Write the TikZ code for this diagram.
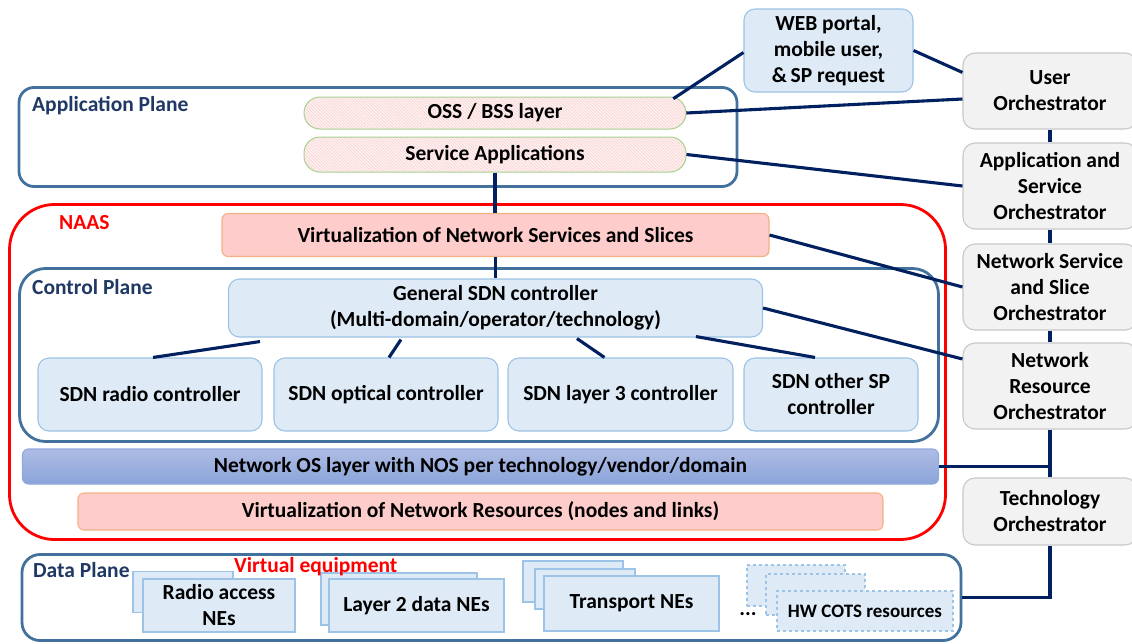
\documentclass[tikz,border=0pt]{standalone}
\usepackage{fontspec}
\setmainfont{Carlito}
\usetikzlibrary{calc,patterns.meta}
\definecolor{navy}{HTML}{1F3864}
\definecolor{planeblue}{HTML}{41719C}
\definecolor{conn}{HTML}{002060}
\definecolor{lbfill}{HTML}{DEEBF7}
\definecolor{lbdraw}{HTML}{9DC3E6}
\definecolor{orfill}{HTML}{F2F2F2}
\definecolor{ordraw}{HTML}{C8C8C8}
\definecolor{pkfill}{HTML}{FFCCCC}
\definecolor{pkdraw}{HTML}{F4B183}
\definecolor{nostop}{HTML}{AEBCE4}
\definecolor{nosbot}{HTML}{8AA4DA}
\definecolor{nosdraw}{HTML}{8FAADC}
\definecolor{hatchbg}{HTML}{FFF2F2}
\definecolor{hatchln}{HTML}{F9D0D0}
\definecolor{pillgreen}{HTML}{A9D18E}
\tikzset{
  x=1pt, y=-1pt,
  every node/.style={font=\bfseries\fontsize{21.5}{26}\selectfont, inner sep=0pt, align=center},
  plane/.style={draw=planeblue, line width=2.8pt},
  planelabel/.style={text=navy, anchor=west},
  pill/.style={draw=pillgreen, line width=1pt, rounded corners=16pt,
    preaction={fill=hatchbg},
    pattern={Lines[angle=-45,distance=2.2pt,line width=0.6pt]}, pattern color=hatchln},
  lbox/.style={draw=lbdraw, fill=lbfill, line width=1.1pt, rounded corners=11pt},
  orch/.style={draw=ordraw, fill=orfill, line width=1.1pt, rounded corners=12pt, minimum width=174pt},
  pbox/.style={draw=pkdraw, fill=pkfill, line width=1.1pt, rounded corners=6pt},
  nebox/.style={draw=lbdraw, fill=lbfill, line width=1.1pt},
  hwbox/.style={draw=lbdraw, fill=lbfill, line width=1.1pt, dashed},
  link/.style={draw=conn, line width=3.1pt},
}
\begin{document}
\begin{tikzpicture}
\clip (0,0) rectangle (1132,643);
\fill[white] (0,0) rectangle (1132,643);

% ---------- planes / containers ----------
\node[plane, rounded corners=15pt, minimum width=718pt, minimum height=99pt] (app) at (378,137) {};
\node[planelabel] (applbl) at (32,106) {Application Plane};

\node[draw=red, line width=2.8pt, rounded corners=45pt, minimum width=936pt, minimum height=335pt] (naas) at (477.5,372) {};
\node[text=red, anchor=west] (naaslbl) at (59,223) {NAAS};

\node[plane, rounded corners=26pt, minimum width=919pt, minimum height=173pt] (ctrl) at (479,355) {};
\node[planelabel] (ctrllbl) at (32,287) {Control Plane};

\node[plane, rounded corners=18pt, minimum width=939pt, minimum height=86pt] (dp) at (491.5,597.5) {};
\node[planelabel] (dplbl) at (33,570) {Data Plane};

% ---------- application plane ----------
\node[pill, minimum width=382pt, minimum height=32pt] (oss) at (495,113) {OSS / BSS layer};
\node[pill, minimum width=382pt, minimum height=35pt] (svc) at (495,154.5) {Service Applications};

\node[lbox, minimum width=169pt, minimum height=83pt] (web) at (828.5,50.5) {WEB portal,\\mobile user,\\\&\,SP request};

% ---------- orchestrators ----------
\node[orch, minimum height=76pt] (uo) at (1050,91) {User\\Orchestrator};
\node[orch, minimum height=86pt] (aso) at (1050,186) {Application and\\Service\\Orchestrator};
\node[orch, minimum height=86pt] (nsso) at (1050,287) {Network Service\\and Slice\\Orchestrator};
\node[orch, minimum height=86pt] (nro) at (1050,386) {Network\\Resource\\Orchestrator};
\node[orch, minimum height=67pt] (to) at (1050,511.5) {Technology\\Orchestrator};

% ---------- NAAS content ----------
\node[pbox, minimum width=547pt, minimum height=43pt] (vnss) at (495.5,235) {Virtualization of Network Services and Slices};
\node[lbox, minimum width=534pt, minimum height=58pt] (gsdn) at (495.5,308) {General SDN controller\\(Multi-domain/operator/technology)};

\node[lbox, minimum width=224pt, minimum height=73pt] (radio) at (150,394.5) {SDN radio controller};
\node[lbox, minimum width=224pt, minimum height=73pt] (optical) at (386,394.5) {SDN optical controller};
\node[lbox, minimum width=225pt, minimum height=73pt] (lthree) at (620.5,394.5) {SDN layer 3 controller};
\node[lbox, minimum width=174pt, minimum height=73pt] (other) at (831,394.5) {SDN other SP\\controller};

\node[draw=nosdraw, line width=1.1pt, rounded corners=6pt, top color=nostop, bottom color=nosbot,
      minimum width=916pt, minimum height=35pt] (nos) at (480.5,466.5) {Network OS layer with NOS per technology/vendor/domain};
\node[pbox, minimum width=805pt, minimum height=37pt] (vnr) at (480.5,511.5) {Virtualization of Network Resources (nodes and links)};

% ---------- data plane ----------
\node[nebox, minimum width=100pt, minimum height=41pt] (rab) at (183,592) {};
\node[nebox, minimum width=152pt, minimum height=53pt] (ra) at (219,605.5) {Radio access\\NEs};

\node[nebox, minimum width=156pt, minimum height=52pt] (l2b) at (399,599) {};
\node[nebox, minimum width=175pt, minimum height=53pt] (l2) at (416.5,605.5) {Layer 2 data NEs};

\node[nebox, minimum width=100pt, minimum height=41pt] (trb) at (573,581.5) {};
\node[nebox, minimum width=100pt, minimum height=40pt] (trm) at (585,589) {};
\node[nebox, minimum width=175pt, minimum height=55pt] (tr) at (631.5,603.5) {Transport NEs};

\node (dots) at (748,614) {...};

\node[hwbox, minimum width=98pt, minimum height=41pt] (hwb) at (796,585.5) {};
\node[hwbox, minimum width=99pt, minimum height=41pt] (hwm) at (815.5,594.5) {};
\node[hwbox, minimum width=176pt, minimum height=40pt, font=\bfseries\fontsize{19}{23}\selectfont] (hw) at (865,611) {HW COTS resources};

\node[text=red, anchor=west] (velbl) at (234,567) {Virtual equipment};

% ---------- connectors ----------
\draw[link] ($(oss.north east)+(-13,2)$) -- ($(web.west)+(0,2)$);
\draw[link] (web.east) -- ($(uo.north west)+(0,20)$);
\draw[link] (oss.east) -- ($(uo.west)+(0,8)$);
\draw[link] (svc.east) -- (aso.west);
\draw[link] (vnss.east) -- (nsso.west);
\draw[link] (gsdn.east) -- ($(nro.west)+(0,-27)$);
\draw[link] (svc.south) -- (svc.south |- vnss.north);
\draw[link] (vnss.south) -- (vnss.south |- gsdn.north);
\draw[link] ($(gsdn.south west)+(32,4)$) -- ($(radio.north)+(3,0)$);
\draw[link] ($(gsdn.south west)+(173,2)$) -- ($(optical.north)+(3,0)$);
\draw[link] ($(gsdn.south west)+(349,1)$) -- ($(lthree.north)+(-16,0)$);
\draw[link] ($(gsdn.south west)+(468,-1)$) -- ($(other.north)+(-16,0)$);
\draw[link] (uo.south) -- (aso.north);
\draw[link] (aso.south) -- (nsso.north);
\draw[link] (nsso.south) -- (nro.north);
\draw[link] (nro.south) -- (to.north);
\draw[link] (nos.east) -- (nos.east -| nro.south);
\draw[link] (to.south) |- (dp.east);
\end{tikzpicture}
\end{document}
